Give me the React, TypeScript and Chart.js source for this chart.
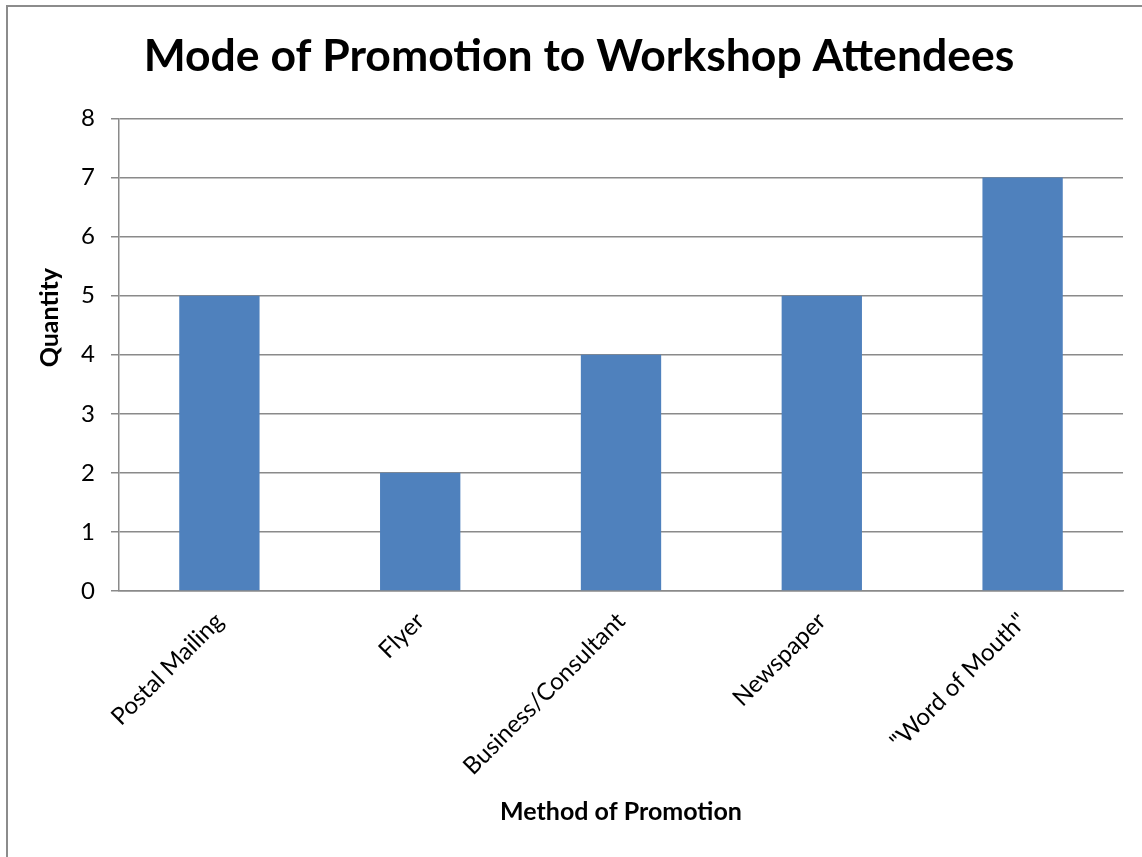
import React, { useEffect, useRef } from "react";
import { Chart, registerables } from "chart.js";

Chart.register(...registerables);

const categories = ["Postal Mailing", "Flyer", "Business/Consultant", "Newspaper", "\"Word of Mouth\""];
const quantities = [5, 2, 4, 5, 7];
const yTicks = [0, 1, 2, 3, 4, 5, 6, 7, 8];
const titleText = "Mode of Promotion to Workshop Attendees";
const xTitle = "Method of Promotion";
const yTitle = "Quantity";

const FONT = "Lato, 'Open Sans', sans-serif";

export default function App() {
  const ref = useRef<HTMLCanvasElement | null>(null);
  useEffect(() => {
    if (!ref.current) return;
    const chart = new Chart(ref.current, {
      type: "bar",
      data: {
        labels: categories,
        datasets: [
          {
            label: yTitle,
            data: quantities,
            backgroundColor: "#4F81BD",
            categoryPercentage: 1,
            barPercentage: 0.4,
          },
        ],
      },
      options: {
        animation: false,
        responsive: false,
        devicePixelRatio: 1,
        layout: { padding: { left: 35, right: 19, top: 0, bottom: 0 } },
        plugins: {
          legend: { display: false },
          tooltip: { enabled: false },
          title: {
            display: true,
            text: titleText,
            color: "#000",
            font: { family: FONT, size: 44.5, weight: "bold", lineHeight: 1.2 },
            padding: { top: 30, bottom: 35 },
          },
        },
        scales: {
          x: {
            grid: { display: false, drawTicks: false },
            border: { display: true, color: "#8a8a8a", width: 1.5 },
            ticks: {
              color: "#000",
              font: { family: FONT, size: 24 },
              minRotation: 45,
              maxRotation: 45,
              padding: 16,
              autoSkip: false,
            },
            title: {
              display: true,
              text: xTitle,
              color: "#000",
              font: { family: FONT, size: 25, weight: "bold", lineHeight: 1.2 },
              padding: { top: 0, bottom: 30 },
            },
            afterFit: (s: any) => {
              s.height = 857 - 591;
            },
          },
          y: {
            min: 0,
            max: 8,
            afterBuildTicks: (s: any) => {
              s.ticks = yTicks.map((v) => ({ value: v }));
            },
            grid: { color: "#8a8a8a", lineWidth: 1.5, tickLength: 8, drawTicks: true },
            border: { display: true, color: "#8a8a8a", width: 1.5 },
            ticks: {
              color: "#000",
              font: { family: FONT, size: 24 },
              padding: 16,
            },
            title: {
              display: true,
              text: yTitle,
              color: "#000",
              font: { family: FONT, size: 25, weight: "bold", lineHeight: 1.2 },
              padding: { top: 0, bottom: 0 },
            },
            afterFit: (s: any) => {
              s.width = 119 - 35;
              if (!s._titleShifted) {
                s._titleShifted = true;
                const orig = s.drawTitle;
                s.drawTitle = function (...args: any[]) {
                  const ctx = this.ctx;
                  ctx.save();
                  ctx.translate(0, -37);
                  orig.apply(this, args);
                  ctx.restore();
                };
              }
            },
          },
        },
      },
    });
    return () => chart.destroy();
  }, []);
  return (
    <div style={{ position: "absolute", left: 0, top: 0, width: 1142, height: 857, background: "#fff", overflow: "hidden" }}>
      <div
        style={{
          position: "absolute",
          left: 6,
          top: 5,
          width: 1200,
          height: 900,
          borderLeft: "2px solid #8c8c8c",
          borderTop: "2px solid #8c8c8c",
        }}
      />
      <canvas ref={ref} width={1142} height={857} style={{ position: "absolute", left: 0, top: 0, width: 1142, height: 857 }} />
    </div>
  );
}
